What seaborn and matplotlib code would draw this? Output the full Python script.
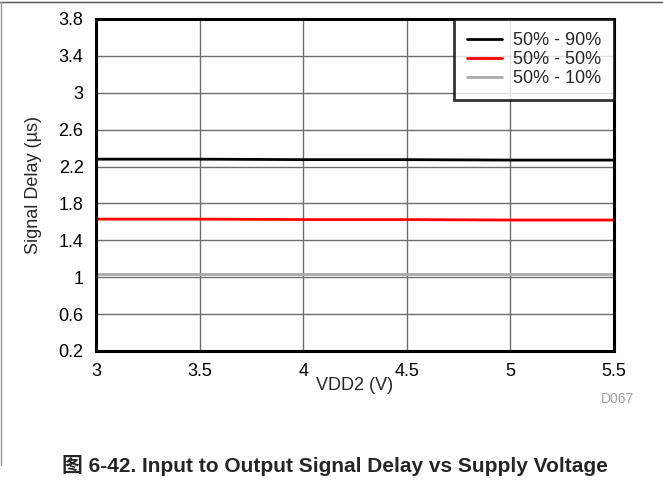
import matplotlib
matplotlib.use("Agg")
import matplotlib.pyplot as plt
import matplotlib.lines as mlines
import pandas as pd
import seaborn as sns

# Supply voltage sweep (V) and measured delays (µs) per threshold pair
vdd2 = [3.0, 3.5, 4.0, 4.5, 5.0, 5.5]
delay_50_90 = [2.28, 2.28, 2.275, 2.275, 2.27, 2.27]
delay_50_50 = [1.63, 1.63, 1.625, 1.625, 1.62, 1.62]
delay_50_10 = [1.03, 1.03, 1.03, 1.03, 1.03, 1.03]
series_names = ["50% - 90%", "50% - 50%", "50% - 10%"]
series_colors = ["#000000", "#ff0000", "#aaaaaa"]

x_ticks = [3, 3.5, 4, 4.5, 5, 5.5]
x_tick_labels = ["3", "3.5", "4", "4.5", "5", "5.5"]
y_ticks = [0.2, 0.6, 1.0, 1.4, 1.8, 2.2, 2.6, 3.0, 3.4, 3.8]
y_tick_labels = ["0.2", "0.6", "1", "1.4", "1.8", "2.2", "2.6", "3", "3.4", "3.8"]

df = pd.DataFrame({
    "VDD2": vdd2 * 3,
    "Delay": delay_50_90 + delay_50_50 + delay_50_10,
    "Series": [series_names[0]] * len(vdd2)
    + [series_names[1]] * len(vdd2)
    + [series_names[2]] * len(vdd2),
})

sns.set_theme(style="white")
plt.rcParams["font.family"] = ["Liberation Sans", "Noto Sans CJK SC", "DejaVu Sans"]

fig = plt.figure(figsize=(6.63, 4.82), dpi=100)
ax = fig.add_axes([0.1448, 0.2718, 0.926 - 0.1448, 0.9606 - 0.2718])

sns.lineplot(
    data=df, x="VDD2", y="Delay", hue="Series",
    palette=dict(zip(series_names, series_colors)),
    linewidth=2.0, ax=ax, legend=False, zorder=3,
)

ax.set_xlim(3, 5.5)
ax.set_ylim(0.2, 3.8)
ax.set_xticks(x_ticks)
ax.set_xticklabels(x_tick_labels)
ax.set_yticks(y_ticks)
ax.set_yticklabels(y_tick_labels)
ax.tick_params(axis="both", length=0, labelsize=13, colors="#000000")
ax.tick_params(axis="x", pad=9)
ax.tick_params(axis="y", pad=9)

ax.grid(True, color="#6e6e6e", linewidth=1.0)
ax.set_axisbelow(True)
for side in ["left", "right", "top", "bottom"]:
    ax.spines[side].set_visible(True)
    ax.spines[side].set_color("#000000")
    ax.spines[side].set_linewidth(2.2)
    ax.spines[side].set_zorder(5)

ax.set_xlabel("VDD2 (V)", fontsize=13)
ax.set_ylabel("Signal Delay (µs)", fontsize=13)
ax.xaxis.set_label_coords(0.5, -0.105)
ax.xaxis.label.set_va("center")
ax.yaxis.set_label_coords(-0.12, 0.5)
ax.yaxis.label.set_va("center")

handles = [mlines.Line2D([], [], color=c, linewidth=2.0) for c in series_colors]
leg = ax.legend(
    handles, series_names, loc="upper right", bbox_to_anchor=(1.0, 1.0),
    fontsize=13, frameon=True, fancybox=False, borderaxespad=0,
    handlelength=1.95, handletextpad=0.6, labelspacing=0.12,
    borderpad=0.72,
)
leg.get_frame().set_edgecolor("#000000")
leg.get_frame().set_linewidth(2.0)
leg.set_zorder(6)

fig.text(618 / 663, 1 - 399 / 482, "D067", color="#a0a0a0", fontsize=10,
         ha="center", va="center")
fig.text(0.505, 1 - 465 / 482, "图 6-42. Input to Output Signal Delay vs Supply Voltage",
         fontsize=15, fontweight="bold", ha="center", va="center")

# light page frame on the top and left edges
fig.add_artist(mlines.Line2D([0, 1], [0.995, 0.995], transform=fig.transFigure,
                             color="#555555", linewidth=1.0))
fig.add_artist(mlines.Line2D([0.0015, 0.0015], [0.035, 0.995], transform=fig.transFigure,
                             color="#999999", linewidth=1.0))

fig.savefig("out.png", dpi=100)
